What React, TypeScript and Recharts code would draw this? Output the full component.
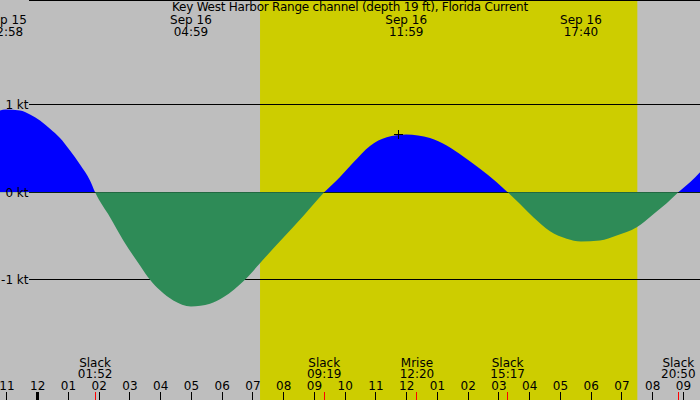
import React from "react";
import {
  ComposedChart,
  Area,
  XAxis,
  YAxis,
  CartesianGrid,
  ReferenceArea,
  Scatter,
} from "recharts";

// ---- data (hours relative to Sep 16 00:00) ----
const curveHours = [
  -1.226, -1.034, -0.576, -0.25, 0.075, 0.4, 0.725, 1.05, 1.376, 1.701, 1.867,
  2.351, 2.784, 3.327, 3.652, 3.977, 4.41, 4.983, 5.603, 6.036, 6.741, 7.229, 7.879, 8.637, 9.317,
  9.831, 10.263, 10.806, 11.35, 11.983, 12.757, 13.3, 13.84, 14.384, 14.927, 15.283,
  15.685, 16.117, 16.66, 17.203, 17.667, 18.285, 18.829, 19.48, 20.02, 20.455, 20.833,
  21.213, 21.538,
];
const curveKnots = [
  0.935, 0.946, 0.935, 0.89, 0.82, 0.725, 0.62, 0.478, 0.318, 0.135, 0,
  -0.285, -0.55, -0.837, -1.0, -1.12, -1.237, -1.305, -1.274, -1.2, -1.0, -0.81, -0.56, -0.27, 0,
  0.175, 0.34, 0.53, 0.63, 0.66, 0.62, 0.535, 0.41, 0.27, 0.115, 0,
  -0.135, -0.285, -0.445, -0.53, -0.562, -0.55, -0.494, -0.4, -0.25, -0.125, 0,
  0.115, 0.23,
];

const hourTicks = [-1, 0, 1, 2, 3, 4, 5, 6, 7, 8, 9, 10, 11, 12, 13, 14, 15, 16, 17, 18, 19, 20, 21];
const hourLabels = [
  "11", "12", "01", "02", "03", "04", "05", "06", "07", "08", "09", "10", "11",
  "12", "01", "02", "03", "04", "05", "06", "07", "08", "09",
];

const eventTimes = [1.867, 9.317, 12.333, 15.283, 20.833];
const eventNames = ["Slack", "Slack", "Mrise", "Slack", "Slack"];
const eventClock = ["01:52", "09:19", "12:20", "15:17", "20:50"];

const extremeTimes = [-1.033, 4.983, 11.983, 17.667];
const extremeDates = ["Sep 15", "Sep 16", "Sep 16", "Sep 16"];
const extremeClock = ["22:58", "04:59", "11:59", "17:40"];

const knotTicks = [-1, 0, 1];

const sunrise = 7.23;
const sunset = 19.5;

const markerTime = [11.74];
const markerKnots = [0.655];

const title = "Key West Harbor Range channel (depth 19 ft), Florida Current";

// ---- axis ranges ----
const xMin = -1.226;
const xMax = 21.538;
const yMin = -2.3737;
const yMax = 2.1977;

const rows = curveHours.map((t, i) => ({ t, v: curveKnots[i] }));
const markerRows = markerTime.map((t, i) => ({ t, m: markerKnots[i] }));

const FONT = "'DejaVu Sans', sans-serif";
const GRAY = "#BEBEBE";
const YELLOW = "#CDCD00";
const FLOOD = "#0000FF";
const EBB = "#2E8B57";
const CHART_W = 700;
const CHART_H = 400;
const zeroOffset = yMax / (yMax - yMin);

const HourTick = (props: any) => {
  const { x, payload } = props;
  const idx = hourTicks.indexOf(payload.value);
  return (
    <g>
      <line
        x1={x}
        x2={x}
        y1={392}
        y2={400}
        stroke="#000"
        strokeWidth={payload.value === 0 ? 3 : 1}
        shapeRendering="crispEdges"
      />
      <text x={x} y={390} textAnchor="middle" fontSize={12} fontFamily={FONT} fill="#000">
        {hourLabels[idx]}
      </text>
    </g>
  );
};

const EventTick = (props: any) => {
  const { x, payload } = props;
  const idx = eventTimes.indexOf(payload.value);
  return (
    <g>
      <line x1={x} x2={x} y1={392} y2={400} stroke="#FF0000" strokeWidth={1} shapeRendering="crispEdges" />
      <text x={x} y={366.5} textAnchor="middle" fontSize={12} fontFamily={FONT} fill="#000">
        {eventNames[idx]}
      </text>
      <text x={x} y={377.5} textAnchor="middle" fontSize={12} fontFamily={FONT} fill="#000">
        {eventClock[idx]}
      </text>
    </g>
  );
};

const ExtremeTick = (props: any) => {
  const { x, payload } = props;
  const idx = extremeTimes.indexOf(payload.value);
  return (
    <g>
      <text x={x} y={24} textAnchor="middle" fontSize={12} fontFamily={FONT} fill="#000">
        {extremeDates[idx]}
      </text>
      <text x={x} y={36} textAnchor="middle" fontSize={12} fontFamily={FONT} fill="#000">
        {extremeClock[idx]}
      </text>
    </g>
  );
};

const KnotTick = (props: any) => {
  const { y, payload } = props;
  return (
    <text x={28.5} y={y + 4.3} textAnchor="end" fontSize={12} fontFamily={FONT} fill="#000">
      {`${payload.value} kt`}
    </text>
  );
};

const PlusShape = (props: any) => {
  const { cx, cy } = props;
  return (
    <g stroke="#000" strokeWidth={1} shapeRendering="crispEdges">
      <line x1={cx - 4.5} x2={cx + 4.5} y1={cy} y2={cy} />
      <line x1={cx} x2={cx} y1={cy - 4.5} y2={cy + 4.5} />
    </g>
  );
};

export default function App() {
  return (
    <div
      style={{
        position: "fixed",
        left: 0,
        top: 0,
        width: CHART_W,
        height: CHART_H,
        background: GRAY,
        overflow: "hidden",
        fontFamily: FONT,
      }}
    >
      <ComposedChart
        width={CHART_W}
        height={CHART_H}
        data={rows}
        margin={{ top: 0, right: 0, bottom: 0, left: 0 }}
      >
        <defs>
          <linearGradient id="flowFill" gradientUnits="userSpaceOnUse" x1={0} y1={0} x2={0} y2={CHART_H}>
            <stop offset={zeroOffset} stopColor={FLOOD} />
            <stop offset={zeroOffset} stopColor={EBB} />
          </linearGradient>
        </defs>
        <ReferenceArea
          x1={sunrise}
          x2={sunset}
          y1={yMin}
          y2={yMax}
          fill={YELLOW}
          fillOpacity={1}
          stroke="none"
          ifOverflow="visible"
          zIndex={-150}
        />
        <CartesianGrid
          vertical={false}
          horizontal
          stroke="#000"
          strokeOpacity={1}
          x={29}
          width={671}
          shapeRendering="crispEdges"
        />
        <XAxis
          dataKey="t"
          type="number"
          domain={[xMin, xMax]}
          allowDataOverflow
          ticks={hourTicks}
          interval={0}
          mirror
          height={30}
          axisLine={false}
          tickLine={false}
          tick={<HourTick />}
        />
        <XAxis
          xAxisId="events"
          dataKey="t"
          type="number"
          domain={[xMin, xMax]}
          allowDataOverflow
          ticks={eventTimes}
          interval={0}
          mirror
          height={30}
          axisLine={false}
          tickLine={false}
          tick={<EventTick />}
        />
        <XAxis
          xAxisId="extremes"
          dataKey="t"
          type="number"
          domain={[xMin, xMax]}
          allowDataOverflow
          ticks={extremeTimes}
          interval={0}
          mirror
          height={30}
          axisLine={false}
          tickLine={false}
          tick={<ExtremeTick />}
        />
        <YAxis
          type="number"
          domain={[yMin, yMax]}
          allowDataOverflow
          ticks={knotTicks}
          interval={0}
          mirror
          width={40}
          axisLine={false}
          tickLine={false}
          tick={<KnotTick />}
        />
        <Area
          type="monotone"
          dataKey="v"
          stroke="none"
          fill="url(#flowFill)"
          fillOpacity={1}
          baseValue={0}
          isAnimationActive={false}
          dot={false}
          activeDot={false}
        />
        <Scatter data={markerRows} dataKey="m" shape={<PlusShape />} isAnimationActive={false} />
      </ComposedChart>
      <div
        style={{
          position: "absolute",
          left: 0,
          top: 0,
          width: CHART_W,
          textAlign: "center",
          fontSize: 12,
          letterSpacing: "-0.24px",
          lineHeight: "14px",
          color: "#000",
          fontFamily: FONT,
          pointerEvents: "none",
          whiteSpace: "nowrap",
        }}
      >
        {title}
      </div>
    </div>
  );
}
